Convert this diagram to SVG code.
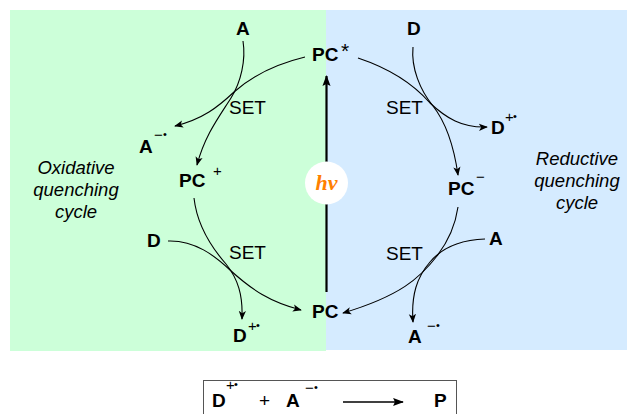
<svg xmlns="http://www.w3.org/2000/svg" width="627" height="414" viewBox="0 0 627 414">
<defs>
<style>
.lb{font-family:"Liberation Sans",Arial,sans-serif;font-weight:bold;font-size:19px;fill:#000}
.set{font-family:"Liberation Sans",Arial,sans-serif;font-size:19px;fill:#000}
.it{font-family:"Liberation Sans",Arial,sans-serif;font-style:italic;font-size:18.5px;fill:#000;text-anchor:middle}
.sup{font-family:"Liberation Sans",Arial,sans-serif;font-size:15px;fill:#000}
.dot{font-family:"Liberation Sans",Arial,sans-serif;font-size:11px;fill:#000}
.c{fill:none;stroke:#000;stroke-width:1.1}
</style>
<marker id="ah" viewBox="0 0 10 10" refX="9" refY="5" markerWidth="9" markerHeight="9" markerUnits="userSpaceOnUse" orient="auto">
<path d="M0,1 L10,5 L0,9 L2.5,5 Z" fill="#000"/>
</marker>
<marker id="ahb" viewBox="0 0 12 10" refX="11" refY="5" markerWidth="12" markerHeight="9" markerUnits="userSpaceOnUse" orient="auto">
<path d="M0,0.5 L12,5 L0,9.5 L2,5 Z" fill="#000"/>
</marker>
</defs>
<rect x="10" y="10" width="316" height="341" fill="#ccffd9"/>
<rect x="326" y="10" width="301" height="340" fill="#d5ebff"/>

<g id="connectors">
<line x1="326.5" y1="292" x2="326.5" y2="76" stroke="#000" stroke-width="2.2" marker-end="url(#ahb)"/>
<path class="c" d="M243,41 C246,60 241,82 231,98 C219,117 205,135 197,165" marker-end="url(#ah)"/>
<path class="c" d="M305,57 C276,64 252,76 234,92 C218,107 203,119 175,126" marker-end="url(#ah)"/>
<path class="c" d="M413,47 C411,68 420,90 433,106 C444,120 453,140 458,175" marker-end="url(#ah)"/>
<path class="c" d="M358,58 C385,67 410,80 430,103 C446,118 462,128 487,127" marker-end="url(#ah)"/>
<path class="c" d="M194,198 C197,225 212,248 226,264 C238,279 243,295 242,319" marker-end="url(#ah)"/>
<path class="c" d="M168,241 C195,240 215,256 230,270 C252,290 270,302 301,310" marker-end="url(#ah)"/>
<path class="c" d="M458,207 C455,228 447,243 437,256 C420,278 400,296 343,313" marker-end="url(#ah)"/>
<path class="c" d="M485,239 C458,240 440,250 430,262 C417,277 411,295 413,322" marker-end="url(#ah)"/>
</g>

<g id="hv">
<circle cx="326.5" cy="183" r="21.5" fill="#fff"/>
<text x="326.5" y="190" text-anchor="middle" font-family="Liberation Serif, serif" font-weight="bold" font-style="italic" font-size="22" fill="#ff8000">hν</text>
</g>

<g id="PCstar"><text class="lb" x="312" y="61">PC</text><text x="341" y="58" font-family="Liberation Sans, Arial, sans-serif" font-size="21">*</text></g>
<g id="A-top"><text class="lb" x="236" y="35">A</text></g>
<g id="D-top"><text class="lb" x="407" y="35">D</text></g>
<g id="Aminus-left"><text class="lb" x="139" y="153">A</text><text class="sup" x="154" y="140">−</text><text class="dot" x="163" y="138">•</text></g>
<g id="Dplus-right"><text class="lb" x="491" y="134">D</text><text class="sup" x="505" y="122">+</text><text class="dot" x="513" y="120">•</text></g>
<g id="PCplus"><text class="lb" x="179" y="187">PC</text><text class="sup" x="213" y="176">+</text></g>
<g id="PCminus"><text class="lb" x="448" y="195">PC</text><text class="sup" x="476" y="182">−</text></g>
<g id="D-left"><text class="lb" x="147" y="247">D</text></g>
<g id="A-right"><text class="lb" x="489" y="245">A</text></g>
<g id="Dplus-bottom"><text class="lb" x="233" y="342">D</text><text class="sup" x="248" y="331">+</text><text class="dot" x="256" y="329">•</text></g>
<g id="PC"><text class="lb" x="312" y="318">PC</text></g>
<g id="Aminus-bottom"><text class="lb" x="408" y="343">A</text><text class="sup" x="427" y="331">−</text><text class="dot" x="436" y="329">•</text></g>

<g id="set-labels">
<text class="set" x="229" y="114">SET</text>
<text class="set" x="386" y="114">SET</text>
<text class="set" x="229" y="259">SET</text>
<text class="set" x="386" y="260">SET</text>
</g>

<g id="oxidative">
<text class="it" x="76" y="174">Oxidative</text>
<text class="it" x="76" y="196">quenching</text>
<text class="it" x="76" y="218">cycle</text>
</g>
<g id="reductive">
<text class="it" x="577" y="165">Reductive</text>
<text class="it" x="577" y="187">quenching</text>
<text class="it" x="577" y="209">cycle</text>
</g>

<g id="equation">
<rect x="203.5" y="380.5" width="253" height="40" fill="none" stroke="#555" stroke-width="1"/>
<text class="lb" x="212" y="407">D</text><text class="sup" x="226" y="390">+</text><text class="dot" x="234" y="388">•</text>
<text class="set" x="259" y="407" font-size="17">+</text>
<text class="lb" x="286" y="407">A</text><text class="sup" x="305" y="393">−</text><text class="dot" x="314" y="391">•</text>
<line x1="343" y1="402" x2="403" y2="402" stroke="#000" stroke-width="1.4" marker-end="url(#ahb)"/>
<text class="lb" x="434" y="407">P</text>
</g>
</svg>
